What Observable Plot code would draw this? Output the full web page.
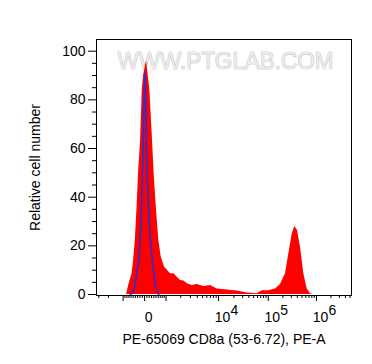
<!DOCTYPE html>
<html>
<head>
<meta charset="utf-8">
<script src="https://cdn.jsdelivr.net/npm/d3@7"></script>
<script src="https://cdn.jsdelivr.net/npm/@observablehq/plot@0.6"></script>
<style>
  html, body { margin: 0; padding: 0; background: #fff; }
  #chart svg { display: block; }
</style>
</head>
<body>
<div id="chart"></div>
<script>
// Sample (red filled histogram): fluorescence value and relative cell number
const redX = [-816,-692,-550,-481,-404,-324,-258,-172,-99,-43,86,228,346,413,513,635,751,921,1263,1476,1721,1986,2286,2636,3246,4000,5285,7043,9441,14763,23290,37060,59250,75000,101100,141000,178800,227200,265800,312800,354000,403100,465200,545100,641400,750500,867400];
const redY = [0,4.4,8.5,14,22,36,50,63,84,90,96,84,63,50,36,22,15.3,11.2,8.5,8.5,7.1,5.8,5.6,4.4,3.7,4.1,3.3,3.7,2.3,1.9,1.4,0.6,0.3,1.6,1.6,2.3,4.1,8.5,16.7,24.9,28,26.3,19.4,8.5,2.3,0.3,0];
// Control (blue outline)
const blueX = [-620,-436,-245,-150,-73,-34,13,60,86,193,333,481,620];
const blueY = [0,3,14,30,55,75,91,75,55,30,14,3,0];

// Axis ticks
const xMajorTicks = [-1000, 0, 1000, 10000, 100000, 1000000];
const xLabelValues = [0, 10000, 100000, 1000000];
const xLabelBase = ["0", "10", "10", "10"];
const xLabelExp = ["", "4", "5", "6"];
const xMinorTicks = [-3000,-2000,-900,-800,-700,-600,-500,-400,-300,-200,-100,100,200,300,400,500,600,700,800,900,
  2000,3000,4000,5000,6000,7000,8000,9000,
  20000,30000,40000,50000,60000,70000,80000,90000,
  200000,300000,400000,500000,600000,700000,800000,900000,
  2000000,3000000,4000000,5000000];
const xDomain = [-3300, 5360000];
const yMajorTicks = [0, 20, 40, 60, 80, 100];
const yMinorTicks = [5,10,15,25,30,35,45,50,55,65,70,75,85,90,95];
const yDomain = [-0.4, 104.8];

const xTitle = "PE-65069 CD8a (53-6.72), PE-A";
const yTitle = "Relative cell number";
const watermark = "WWW.PTGLAB.COM";

// biexponential (logicle-like) display transform, in decades
const B = 261, P = 2.42;
function g(u) { return Math.pow(10, u) - P * P * Math.pow(10, -u / P) + P * P - 1; }
function biex(v) {
  const t = Math.abs(v) / B;
  let lo = 0, hi = 9;
  for (let i = 0; i < 60; i++) { const m = (lo + hi) / 2; if (g(m) < t) lo = m; else hi = m; }
  return Math.sign(v) * (lo + hi) / 2;
}

const red = redX.map((v, i) => ({v, n: redY[i]}));
const blue = blueX.map((v, i) => ({v, n: blueY[i]}));
const labels = xLabelValues.map((v, i) => ({v, base: xLabelBase[i], exp: xLabelExp[i]}));

const font = "Liberation Sans, Arial, Helvetica, sans-serif";

const chart = Plot.plot({
  width: 372,
  height: 364,
  marginLeft: 96,
  marginRight: 21,
  marginTop: 39,
  marginBottom: 69,
  style: {fontFamily: font, fontSize: "14px", color: "black", background: "white"},
  x: {domain: xDomain.map(biex)},
  y: {domain: yDomain},
  marks: [
    Plot.text([watermark], {frameAnchor: "top", dx: 1.5, dy: 22, lineAnchor: "middle", fontSize: 24, fill: "#ececec", stroke: "#a8a8a8", strokeWidth: 0.7, fontFamily: font}),
    Plot.areaY(red, {x: d => biex(d.v), y: "n", fill: "#ff0000", curve: "linear"}),
    Plot.line(blue, {x: d => biex(d.v), y: "n", stroke: "#3a2ac0", strokeWidth: 1.8, curve: "linear"}),
    Plot.frame({stroke: "black", strokeWidth: 1}),
    Plot.axisY({ticks: yMajorTicks, tickSize: 8, tickPadding: 3, fontSize: 14, label: null}),
    Plot.axisY({ticks: yMinorTicks, tickSize: 4, tickFormat: () => "", label: null}),
    Plot.axisX({ticks: xMajorTicks.map(biex), tickSize: 6, tickFormat: () => "", label: null}),
    Plot.axisX({ticks: xMinorTicks.map(biex), tickSize: 3, tickFormat: () => "", label: null}),
    Plot.text(labels, {x: d => biex(d.v), text: "base", frameAnchor: "bottom", dy: 22.5, dx: 4, lineAnchor: "middle", textAnchor: "middle", fontSize: 14}),
    Plot.text(labels, {x: d => biex(d.v), text: "exp", frameAnchor: "bottom", dy: 15.5, dx: 12, lineAnchor: "middle", textAnchor: "start", fontSize: 14}),
    Plot.text([xTitle], {frameAnchor: "bottom", dy: 44.5, lineAnchor: "middle", textAnchor: "middle", fontSize: 14}),
    Plot.text([yTitle], {frameAnchor: "left", dx: -61, rotate: -90, lineAnchor: "middle", textAnchor: "middle", fontSize: 14})
  ]
});

// condense watermark width to match
chart.querySelectorAll("text").forEach(t => {
  if (t.textContent === watermark) {
    t.setAttribute("textLength", "216");
    t.setAttribute("lengthAdjust", "spacingAndGlyphs");
  }
});

document.getElementById("chart").appendChild(chart);
</script>
</body>
</html>
